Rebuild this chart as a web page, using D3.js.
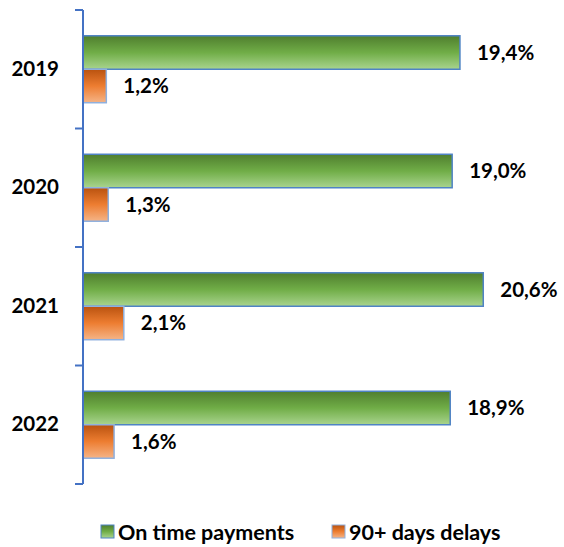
<!DOCTYPE html>
<html>
<head>
<meta charset="utf-8">
<script src="https://cdn.jsdelivr.net/npm/d3@7"></script>
<style>
  body { margin: 0; background: #fff; }
  text { font-family: Lato, "Open Sans", sans-serif; font-weight: bold; fill: #000; }
</style>
</head>
<body>
<div id="chart"></div>
<script>
const years = ["2019", "2020", "2021", "2022"];
const seriesNames = ["On time payments", "90+ days delays"];
const onTime = [19.4, 19.0, 20.6, 18.9];
const delays = [1.2, 1.3, 2.1, 1.6];

const width = 564, height = 547;
const svg = d3.select("#chart").append("svg")
  .attr("width", width)
  .attr("height", height);

const defs = svg.append("defs");
const grads = [
  { id: "gGreen", stops: ["#4f7e2e", "#70ad47", "#a9d48e"] },
  { id: "gOrange", stops: ["#b9520f", "#ed7d31", "#f5b487"] }
];
grads.forEach(g => {
  const lg = defs.append("linearGradient").attr("id", g.id)
    .attr("x1", 0).attr("y1", 0).attr("x2", 0).attr("y2", 1);
  g.stops.forEach((c, i) => lg.append("stop").attr("offset", i / 2).attr("stop-color", c));
});
const fills = ["url(#gGreen)", "url(#gOrange)"];
const strokes = ["#4f83c4", "#8fb0de"];

const x0 = 83;
const x = d3.scaleLinear().domain([0, 20]).range([x0, x0 + 20 * 19.43]);
const y = d3.scaleBand().domain(years).range([10, 484]).padding(0);
const ySub = d3.scaleBand().domain(seriesNames).range([0, y.bandwidth()])
  .paddingInner(0).paddingOuter(0.77);

const rows = years.map((yr, i) => ({ year: yr, vals: [onTime[i], delays[i]] }));

// bars
const grp = svg.selectAll("g.year").data(rows).enter().append("g")
  .attr("class", "year")
  .attr("transform", d => "translate(0," + y(d.year) + ")");

grp.selectAll("rect")
  .data(d => d.vals.map((v, j) => ({ v: v, s: seriesNames[j], j: j })))
  .enter().append("rect")
  .attr("x", x(0))
  .attr("y", d => ySub(d.s))
  .attr("width", d => x(d.v) - x(0))
  .attr("height", ySub.bandwidth())
  .attr("fill", d => fills[d.j])
  .attr("stroke", d => strokes[d.j])
  .attr("stroke-width", 1.5);

grp.selectAll("text.lbl")
  .data(d => d.vals.map((v, j) => ({ v: v, s: seriesNames[j] })))
  .enter().append("text")
  .attr("class", "lbl")
  .attr("x", d => x(d.v) + 17)
  .attr("y", d => ySub(d.s) + ySub.bandwidth() / 2)
  .attr("dy", "0.36em")
  .style("font-size", "20.5px")
  .text(d => d.v.toFixed(1).replace(".", ",") + "%");

// axis
const axis = svg.append("g").attr("transform", "translate(" + x0 + ",0)")
  .call(d3.axisLeft(y).tickSize(0).tickPadding(24).tickSizeOuter(0));
axis.select(".domain").remove();
axis.selectAll("text").style("font-size", "20.5px").attr("font-family", null);

svg.append("line")
  .attr("x1", x0).attr("x2", x0)
  .attr("y1", y.range()[0]).attr("y2", y.range()[1])
  .attr("stroke", "#4472c4").attr("stroke-width", 2);

const edges = years.map(yr => y(yr)).concat([y.range()[1]]);
svg.selectAll("line.tk").data(edges).enter().append("line")
  .attr("class", "tk")
  .attr("x1", x0 - 8).attr("x2", x0)
  .attr("y1", d => d).attr("y2", d => d)
  .attr("stroke", "#4472c4").attr("stroke-width", 2);

// legend
const legend = svg.append("g").attr("transform", "translate(0,532)");
const legX = [101, 332];
seriesNames.forEach((name, j) => {
  legend.append("rect")
    .attr("x", legX[j]).attr("y", -7)
    .attr("width", 13).attr("height", 13)
    .attr("fill", fills[j])
    .attr("stroke", strokes[j]).attr("stroke-width", 1);
  legend.append("text")
    .attr("x", legX[j] + 17).attr("y", 0)
    .attr("dy", "0.36em")
    .style("font-size", "21.5px")
    .text(name);
});
</script>
</body>
</html>
